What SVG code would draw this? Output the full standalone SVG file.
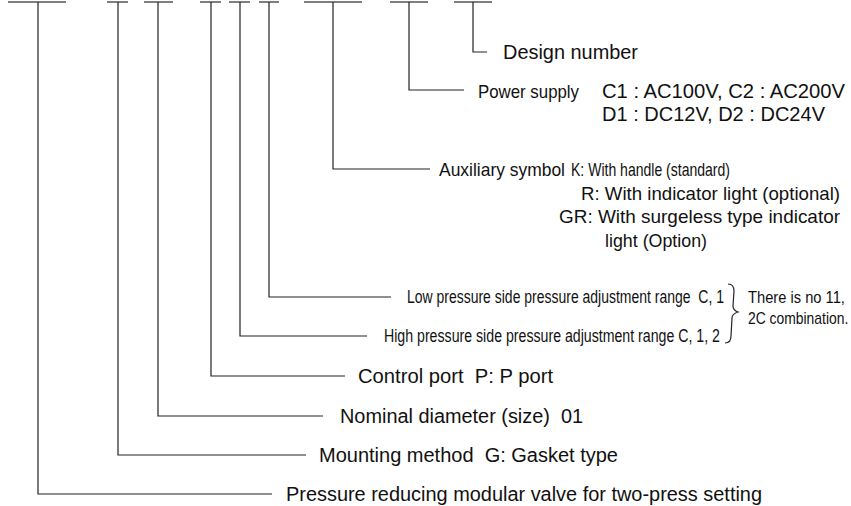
<svg xmlns="http://www.w3.org/2000/svg" width="851" height="506" viewBox="0 0 851 506">
<style>
.bar{stroke:#555;stroke-width:1.3;fill:none}
.ln{stroke:#222;stroke-width:1.2;fill:none}
text{font-family:"Liberation Sans",Arial,Helvetica,sans-serif;fill:#111;white-space:pre}
.r{font-size:20px}
.n{font-size:19px}
.c{font-size:18.5px}
.s{font-size:16px}
</style>
<rect width="851" height="506" fill="#fff"/>
<g id="code-slots">
<path class="bar" d="M8 2H66M107 2H128M144 2H173M200 2H221M229 2H250M259 2H279M304 2H362M390 2H428M454 2H492"/>
</g>
<g id="connectors">
<path class="ln" d="M473 2V52H487"/>
<path class="ln" d="M409 2V90H464"/>
<path class="ln" d="M333 2V169H430"/>
<path class="ln" d="M269 2V297H391"/>
<path class="ln" d="M240 2V336H367"/>
<path class="ln" d="M211 2V376H345"/>
<path class="ln" d="M158 2V416H323"/>
<path class="ln" d="M118 2V455H306"/>
<path class="ln" d="M38 2V494H272"/>
<path class="ln" d="M728 284C733 284 734 287 734 291L733 306C733 309 735 311 738 312C735 313 732 315 732 318L731 336C731 340 729 343 725 343"/>
</g>
<g id="design-number">
<text class="r" x="503" y="59" textLength="135" lengthAdjust="spacingAndGlyphs">Design number</text>
</g>
<g id="power-supply">
<text class="n" x="478" y="98" textLength="101" lengthAdjust="spacingAndGlyphs">Power supply</text>
<text class="r" x="602" y="98" textLength="243" lengthAdjust="spacingAndGlyphs">C1 : AC100V, C2 : AC200V</text>
<text class="r" x="602" y="121" textLength="223" lengthAdjust="spacingAndGlyphs">D1 : DC12V, D2 : DC24V</text>
</g>
<g id="auxiliary-symbol">
<text class="n" x="439" y="176" textLength="126" lengthAdjust="spacingAndGlyphs">Auxiliary symbol</text>
<text class="n" x="571" y="176" textLength="159" lengthAdjust="spacingAndGlyphs">K: With handle (standard)</text>
<text class="n" x="581" y="200" textLength="259" lengthAdjust="spacingAndGlyphs">R: With indicator light (optional)</text>
<text class="n" x="559" y="223" textLength="281" lengthAdjust="spacingAndGlyphs">GR: With surgeless type indicator</text>
<text class="n" x="605" y="247" textLength="102" lengthAdjust="spacingAndGlyphs">light (Option)</text>
</g>
<g id="low-pressure">
<text class="c" transform="translate(407 303) scale(0.76 1)" x="0" y="0" textLength="417" lengthAdjust="spacingAndGlyphs">Low pressure side pressure adjustment range  C, 1</text>
</g>
<g id="combination-note">
<text class="s" transform="translate(748 303) scale(0.85 1)" x="0" y="0" textLength="114" lengthAdjust="spacingAndGlyphs">There is no 11,</text>
<text class="s" transform="translate(748 324) scale(0.85 1)" x="0" y="0" textLength="118" lengthAdjust="spacingAndGlyphs">2C combination.</text>
</g>
<g id="high-pressure">
<text class="c" transform="translate(384 342) scale(0.76 1)" x="0" y="0" textLength="442" lengthAdjust="spacingAndGlyphs">High pressure side pressure adjustment range C, 1, 2</text>
</g>
<g id="control-port">
<text class="r" x="358" y="383" textLength="195" lengthAdjust="spacingAndGlyphs">Control port  P: P port</text>
</g>
<g id="nominal-diameter">
<text class="r" x="340" y="423" textLength="243" lengthAdjust="spacingAndGlyphs">Nominal diameter (size)  01</text>
</g>
<g id="mounting-method">
<text class="r" x="319" y="462" textLength="299" lengthAdjust="spacingAndGlyphs">Mounting method  G: Gasket type</text>
</g>
<g id="valve-type">
<text class="r" x="286" y="501" textLength="476" lengthAdjust="spacingAndGlyphs">Pressure reducing modular valve for two-press setting</text>
</g>
</svg>
